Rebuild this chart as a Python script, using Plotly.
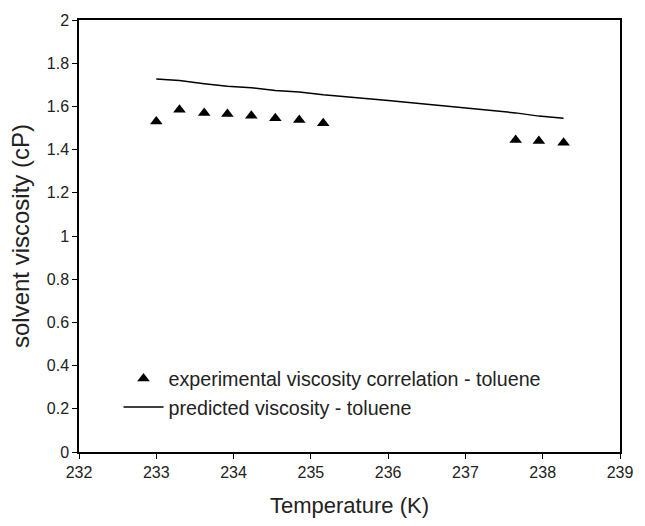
import plotly.graph_objects as go

# Data
exp_T = [233.0, 233.3, 233.62, 233.92, 234.23, 234.54, 234.85, 235.16, 237.65, 237.95, 238.27]
exp_visc = [1.53, 1.585, 1.57, 1.565, 1.557, 1.545, 1.537, 1.522, 1.445, 1.44, 1.432]

pred_T = [233.0, 233.3, 233.62, 233.92, 234.23, 234.54, 234.85, 235.16, 236.0, 237.0, 237.65, 237.95, 238.27]
pred_visc = [1.727, 1.72, 1.705, 1.693, 1.686, 1.674, 1.667, 1.654, 1.627, 1.593, 1.57, 1.555, 1.545]

FONT = "Arial, Liberation Sans, sans-serif"

fig = go.Figure()
fig.add_trace(go.Scatter(
    x=exp_T, y=exp_visc, mode="markers",
    name="experimental viscosity correlation - toluene",
    marker=dict(symbol="triangle-up", size=11, color="black"),
))
fig.add_trace(go.Scatter(
    x=pred_T, y=pred_visc, mode="lines",
    name="predicted viscosity - toluene",
    line=dict(color="black", width=1.5),
))

axis_common = dict(
    showline=True, linecolor="black", linewidth=1.5, mirror=True,
    ticks="outside", ticklen=5, tickcolor="black", tickwidth=1,
    showgrid=False, zeroline=False,
    tickfont=dict(family=FONT, size=16, color="#222"),
)

fig.update_layout(
    width=645, height=526,
    margin=dict(l=79, r=15, t=20, b=71),
    paper_bgcolor="white", plot_bgcolor="white",
    font=dict(family=FONT, color="#222"),
    xaxis=dict(range=[232, 239], dtick=1, tick0=232,
               title=dict(text="Temperature (K)", font=dict(size=22, family=FONT), standoff=18),
               **axis_common),
    yaxis=dict(range=[0, 2], dtick=0.2, tick0=0,
               title=dict(text="solvent viscosity (cP)", font=dict(size=24, family=FONT), standoff=10),
               **axis_common),
    showlegend=True,
    legend=dict(x=0.073, y=0.215, xanchor="left", yanchor="top",
                bgcolor="rgba(0,0,0,0)", font=dict(size=19.7, family=FONT, color="#222"),
                itemwidth=40, tracegroupgap=0),
)

fig.write_html("out.html")
